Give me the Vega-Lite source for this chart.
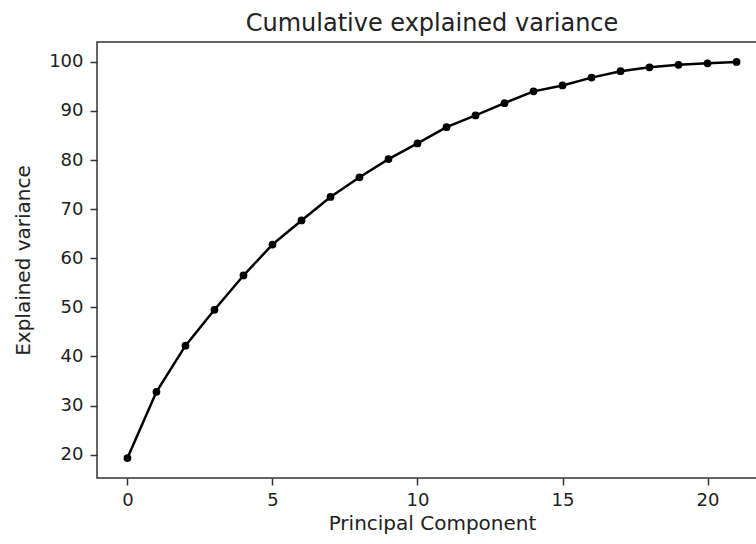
{
  "$schema": "https://vega.github.io/schema/vega-lite/v6.json",
  "autosize": "none",
  "padding": {"left": 97, "top": 42, "right": 0, "bottom": 66},
  "width": 670,
  "height": 436,
  "background": "white",
  "title": {"text": "Cumulative explained variance", "font": "DejaVu Sans", "fontSize": 24, "fontWeight": "normal", "color": "#222", "offset": 6, "anchor": "middle"},
  "config": {
    "view": {"stroke": "#333", "strokeWidth": 1.5},
    "axis": {"labelFont": "DejaVu Sans", "titleFont": "DejaVu Sans", "labelFontSize": 18, "titleFontSize": 20, "titleFontWeight": "normal", "labelColor": "#222", "titleColor": "#222", "tickColor": "#333", "tickWidth": 1.5, "domain": false, "grid": false, "tickSize": 7}
  },
  "data": {"values": [
    {"pc": 0, "v": 19.3}, {"pc": 1, "v": 32.8}, {"pc": 2, "v": 42.2}, {"pc": 3, "v": 49.5},
    {"pc": 4, "v": 56.5}, {"pc": 5, "v": 62.8}, {"pc": 6, "v": 67.7}, {"pc": 7, "v": 72.5},
    {"pc": 8, "v": 76.5}, {"pc": 9, "v": 80.2}, {"pc": 10, "v": 83.4}, {"pc": 11, "v": 86.7},
    {"pc": 12, "v": 89.1}, {"pc": 13, "v": 91.6}, {"pc": 14, "v": 94.0}, {"pc": 15, "v": 95.2},
    {"pc": 16, "v": 96.8}, {"pc": 17, "v": 98.1}, {"pc": 18, "v": 98.9}, {"pc": 19, "v": 99.4},
    {"pc": 20, "v": 99.7}, {"pc": 21, "v": 100.0}
  ]},
  "encoding": {
    "x": {"field": "pc", "type": "quantitative", "scale": {"domain": [-1.05, 22.05], "nice": false, "zero": false},
      "axis": {"values": [0, 5, 10, 15, 20], "title": "Principal Component", "labelPadding": 6, "titlePadding": 4}},
    "y": {"field": "v", "type": "quantitative", "scale": {"domain": [15.25, 104.05], "nice": false, "zero": false},
      "axis": {"values": [20, 30, 40, 50, 60, 70, 80, 90, 100], "title": "Explained variance", "labelPadding": 7, "titlePadding": 15}}
  },
  "layer": [
    {"mark": {"type": "line", "color": "black", "strokeWidth": 2.5}},
    {"mark": {"type": "point", "filled": true, "color": "black", "opacity": 1, "size": 60}}
  ]
}
